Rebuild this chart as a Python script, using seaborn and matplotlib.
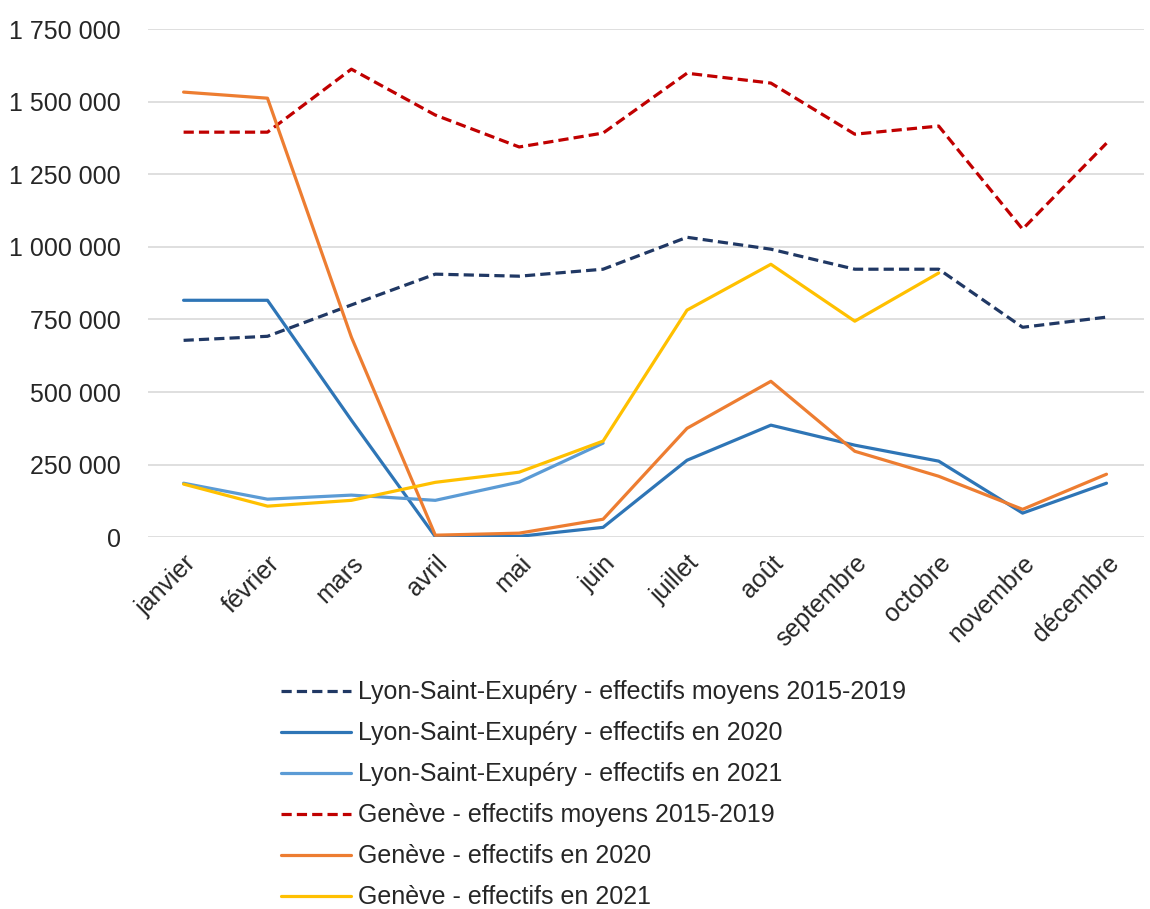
import matplotlib
matplotlib.use("Agg")
import matplotlib.pyplot as plt
import seaborn as sns
import pandas as pd
from matplotlib.ticker import FuncFormatter

months = ["janvier", "février", "mars", "avril", "mai", "juin", "juillet",
          "août", "septembre", "octobre", "novembre", "décembre"]

lyon_moy = [678000, 692000, 800000, 906000, 899000, 923000, 1033000,
            992000, 923000, 923000, 723000, 758000]
lyon_2020 = [816000, 816000, 403000, 2000, 3000, 34000, 265000,
             386000, 317000, 262000, 83000, 186000]
lyon_2021 = [186000, 131000, 145000, 127000, 190000, 324000]
geneve_moy = [1395000, 1395000, 1612000, 1454000, 1344000, 1392000, 1598000,
              1564000, 1388000, 1416000, 1061000, 1357000]
geneve_2020 = [1533000, 1512000, 689000, 7000, 14000, 62000, 375000,
               537000, 296000, 210000, 96000, 217000]
geneve_2021 = [183000, 107000, 127000, 189000, 224000, 331000, 782000,
               940000, 744000, 910000]

series = [
    ("Lyon-Saint-Exupéry - effectifs moyens 2015-2019", lyon_moy, "#203864", True),
    ("Lyon-Saint-Exupéry - effectifs en 2020", lyon_2020, "#2E75B6", False),
    ("Lyon-Saint-Exupéry - effectifs en 2021", lyon_2021, "#5B9BD5", False),
    ("Genève - effectifs moyens 2015-2019", geneve_moy, "#C00000", True),
    ("Genève - effectifs en 2020", geneve_2020, "#ED7D31", False),
    ("Genève - effectifs en 2021", geneve_2021, "#FFC000", False),
]

sns.set_theme(style="white")
plt.rcParams["font.family"] = ["Liberation Sans", "DejaVu Sans"]

fig = plt.figure(figsize=(11.5, 9.09), dpi=100)
ax = fig.add_axes([0.129, 0.409, 0.866, 0.559])

for label, values, color, dashed in series:
    df = pd.DataFrame({"x": range(len(values)), "y": values})
    sns.lineplot(data=df, x="x", y="y", ax=ax, color=color, lw=2.3, label=label)
    if dashed:
        ax.lines[-1].set_dashes((3.2, 1.6))

ax.set_ylim(0, 1750000)
ax.set_xlim(-0.42, 11.45)
ax.set_yticks(range(0, 1750001, 250000))
ax.yaxis.set_major_formatter(FuncFormatter(lambda v, p: f"{int(v):,}".replace(",", " ")))
ax.set_xticks(range(len(months)))
ax.set_xticklabels(months, rotation=45, ha="right", rotation_mode="anchor")
ax.tick_params(axis="both", labelsize=18, colors="#262626", length=0)
ax.tick_params(axis="y", pad=20)
ax.tick_params(axis="x", pad=10)
ax.grid(axis="y", color="#d9d9d9", lw=1.2)
ax.set_axisbelow(True)
ax.set_xlabel("")
ax.set_ylabel("")
sns.despine(ax=ax, left=True, bottom=True)

leg = ax.legend(loc="upper left", bbox_to_anchor=(0.123, -0.262), frameon=False,
                fontsize=18, handlelength=2.8, handletextpad=0.3,
                labelspacing=0.68, borderaxespad=0)
for t in leg.get_texts():
    t.set_color("#262626")

fig.savefig("out.png", dpi=100, facecolor="white")
